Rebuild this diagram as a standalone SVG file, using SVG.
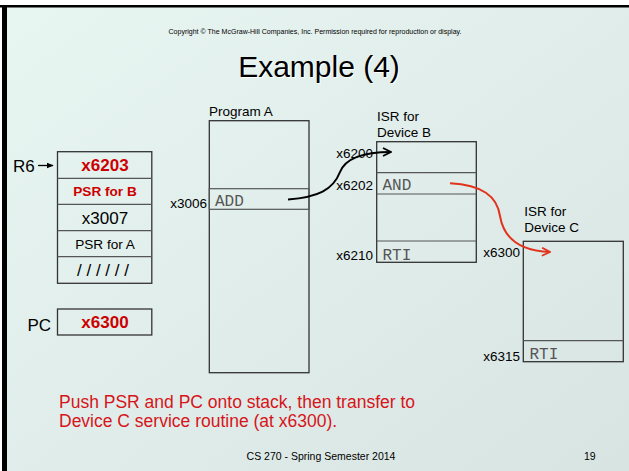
<svg xmlns="http://www.w3.org/2000/svg" width="629" height="471" viewBox="0 0 629 471">
<defs>
<linearGradient id="bg" x1="0" y1="0" x2="1" y2="1">
<stop offset="0" stop-color="#e8f6f2"/>
<stop offset="1" stop-color="#d8e4e2"/>
</linearGradient>
<marker id="ab" viewBox="0 0 10 10" refX="9" refY="5" markerWidth="10" markerHeight="10" markerUnits="userSpaceOnUse" orient="auto">
<path d="M1,1 L9,5 L1,9" fill="none" stroke="#000" stroke-width="1.8"/>
</marker>
<marker id="ar" viewBox="0 0 10 10" refX="9" refY="5" markerWidth="10" markerHeight="10" markerUnits="userSpaceOnUse" orient="auto">
<path d="M1,1 L9,5 L1,9" fill="none" stroke="#e2341d" stroke-width="1.8"/>
</marker>
<marker id="af" viewBox="0 0 10 10" refX="9" refY="5" markerWidth="7" markerHeight="7" markerUnits="userSpaceOnUse" orient="auto">
<path d="M0,1 L10,5 L0,9 Z" fill="#000"/>
</marker>
</defs>
<style>
text{font-family:"Liberation Sans",Arial,sans-serif;fill:#000}
.box{fill:none;stroke:#333;stroke-width:1.3}
.row{fill:none;stroke:#555;stroke-width:1.2}
.lbl{font-size:13.5px}
.lr{font-size:13.5px;text-anchor:end}
.code{font-family:"Liberation Mono","Courier New",monospace;font-size:16px;fill:#555}
.st{font-size:17px;text-anchor:middle}
.sts{font-size:13.6px;text-anchor:middle}
.red{fill:#cc0000;font-weight:bold}
.note{font-size:17.5px;fill:#d7141a}
</style>
<rect x="0" y="0" width="629" height="471" fill="#fff"/>
<rect x="4" y="6" width="625" height="465" fill="url(#bg)"/>
<rect x="0" y="5" width="629" height="2.5" fill="#000"/>
<rect x="2" y="5" width="5" height="466" fill="#000"/>

<text x="315" y="34" font-size="6.5" text-anchor="middle" textLength="293" lengthAdjust="spacingAndGlyphs">Copyright © The McGraw-Hill Companies, Inc.  Permission required for reproduction or display.</text>
<text x="320" y="77.5" font-size="30" text-anchor="middle" style="fill:#fff">Example (4)</text>
<text x="319" y="76.5" font-size="30" text-anchor="middle">Example (4)</text>

<g id="stack">
<rect class="box" x="57.5" y="151.7" width="94.3" height="131.6"/>
<line class="row" x1="57.5" y1="178.3" x2="151.8" y2="178.3"/>
<line class="row" x1="57.5" y1="204.3" x2="151.8" y2="204.3"/>
<line class="row" x1="57.5" y1="230.7" x2="151.8" y2="230.7"/>
<line class="row" x1="57.5" y1="256.7" x2="151.8" y2="256.7"/>
<text class="st red" x="105" y="171">x6203</text>
<text class="sts red" x="105" y="196">PSR for B</text>
<text class="st" x="105" y="223.5">x3007</text>
<text class="sts" x="105" y="249">PSR for A</text>
<text class="st" x="103" y="276">/ / / / / /</text>
</g>
<g id="r6">
<text x="13" y="171.7" font-size="17">R6</text>
</g>
<g id="pc">
<rect class="box" x="57.5" y="309" width="94.3" height="26"/>
<text class="st red" x="105" y="328">x6300</text>
<text x="27.5" y="330.7" font-size="17">PC</text>
</g>

<g id="programA">
<text class="lbl" x="209" y="116">Program A</text>
<rect class="box" x="209.3" y="120.7" width="99.7" height="252"/>
<rect class="row" x="209.3" y="188.7" width="99.7" height="20.6"/>
<text class="lr" x="207" y="208">x3006</text>
<text class="code" x="215" y="205.5">ADD</text>
</g>

<g id="isrB">
<text class="lbl" x="377" y="120.7">ISR for</text>
<text class="lbl" x="377" y="136.7">Device B</text>
<rect class="box" x="376.7" y="141.7" width="99.6" height="120.6"/>
<line class="row" x1="376.7" y1="172.7" x2="476.3" y2="172.7"/>
<line class="row" x1="376.7" y1="194" x2="476.3" y2="194"/>
<line class="row" x1="376.7" y1="241" x2="476.3" y2="241"/>
<text class="lr" x="373" y="158.3">x6200</text>
<text class="lr" x="373" y="190">x6202</text>
<text class="lr" x="373" y="260">x6210</text>
<text class="code" x="382.5" y="189.5">AND</text>
<text class="code" x="382.5" y="259.5">RTI</text>
</g>

<g id="isrC">
<text class="lbl" x="524.3" y="215.7">ISR for</text>
<text class="lbl" x="524.3" y="232.3">Device C</text>
<rect class="box" x="523.3" y="241.3" width="100" height="120.4"/>
<line class="row" x1="523.3" y1="340.7" x2="623.3" y2="340.7"/>
<text class="lr" x="520" y="257.3">x6300</text>
<text class="lr" x="520" y="360.7">x6315</text>
<text class="code" x="529.5" y="359">RTI</text>
</g>

<g id="connectors">
<line x1="38" y1="165.5" x2="53" y2="165.5" stroke="#000" stroke-width="1.3" marker-end="url(#af)"/>
<path d="M288,199.5 C318,197 333,190 340,172 C346,157 365,152 391,152" fill="none" stroke="#000" stroke-width="2" marker-end="url(#ab)"/>
<path d="M450,183.3 C482,185 497,196 500,216 C504,240 522,251 550,252" fill="none" stroke="#e2341d" stroke-width="2" marker-end="url(#ar)"/>
</g>

<text class="note" x="59" y="408">Push PSR and PC onto stack, then transfer to</text>
<text class="note" x="59" y="427.3">Device C service routine (at x6300).</text>
<text x="321" y="460" font-size="10.5" text-anchor="middle">CS 270 - Spring Semester 2014</text>
<text x="584" y="460" font-size="10.5">19</text>
</svg>
